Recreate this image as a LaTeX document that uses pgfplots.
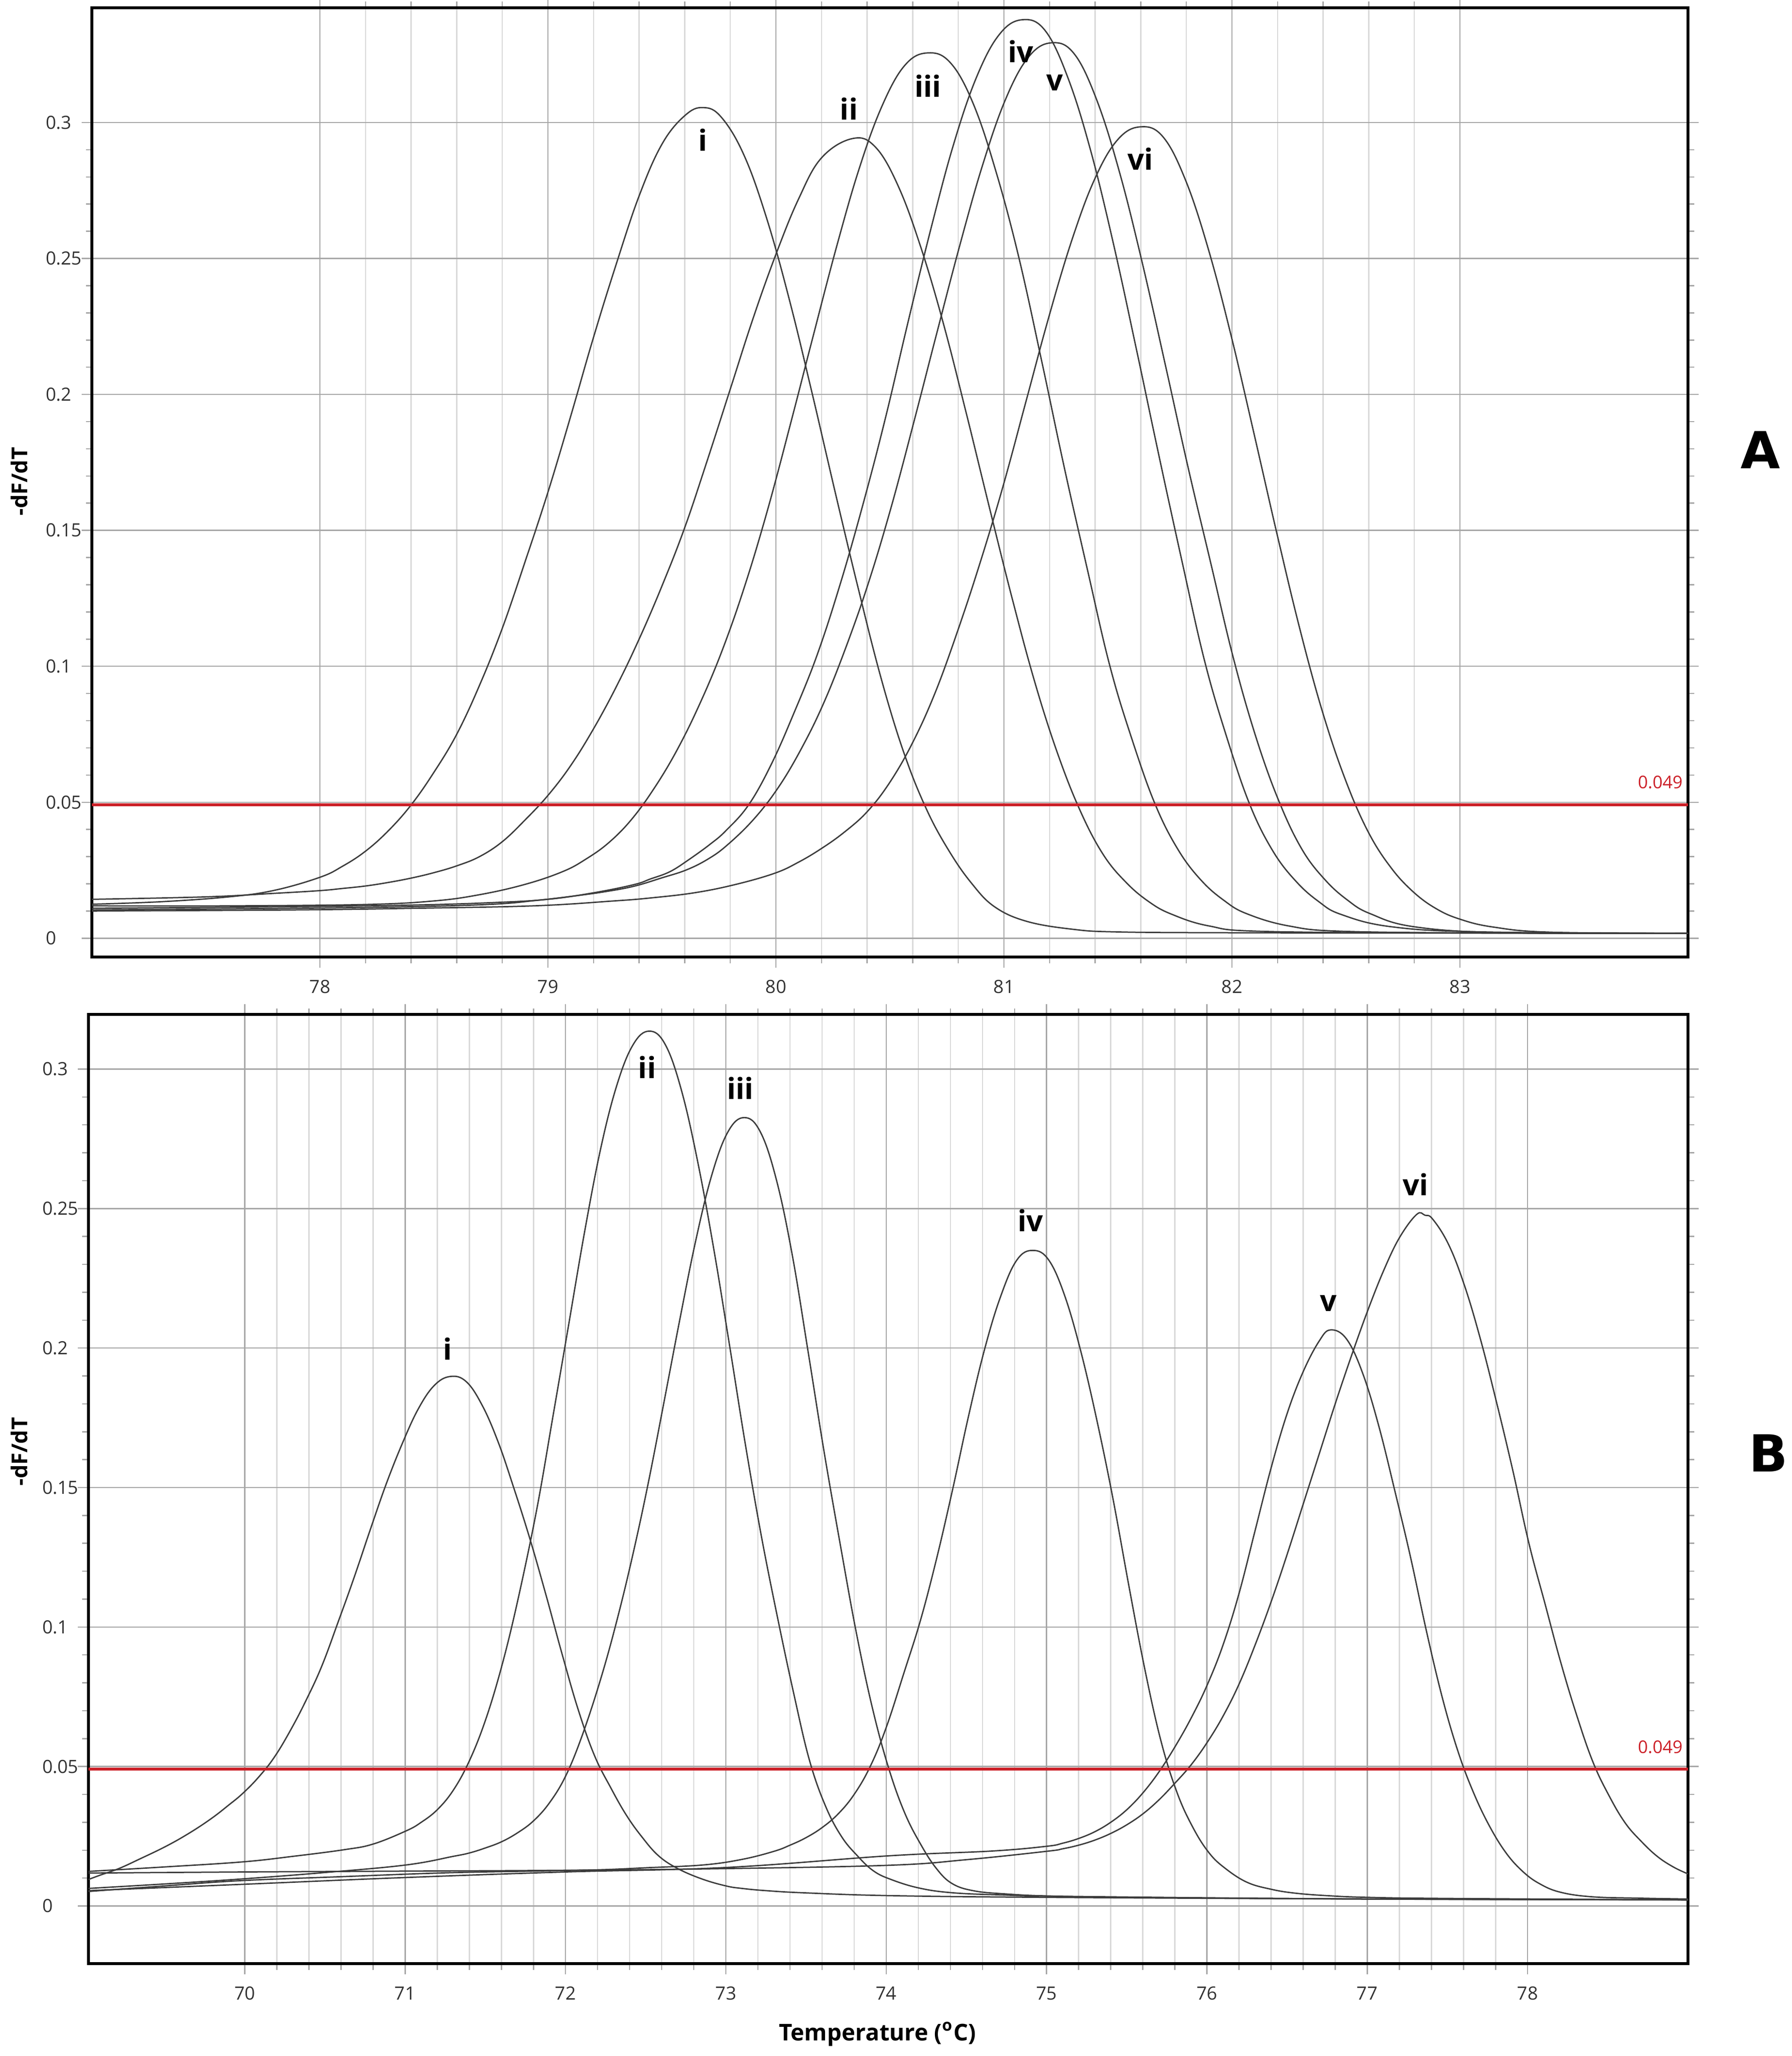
\documentclass[border=0pt]{standalone}
\usepackage{pgfplots}
\pgfplotsset{compat=1.18}
\usepackage{fontspec}
\setmainfont{Open Sans}
\newfontfamily\dejavu{DejaVu Sans}
\definecolor{thr}{RGB}{204,32,40}
\definecolor{crv}{RGB}{60,60,60}
\tikzset{pk/.style={font=\fontsize{12}{14}\selectfont\bfseries, text=black, inner sep=0pt}}
\pgfplotsset{
  melt/.style={
    scale only axis, anchor=north west,
    axis line style={line width=1.1pt, black},
    tick align=outside,
    major tick length=4.3pt, minor tick length=2.5pt,
    tick style={black!35, line width=0.5pt},
    xmajorgrids=true, xminorgrids=true, ymajorgrids=true, yminorgrids=false,
    major grid style={black!35, line width=0.5pt},
    minor grid style={black!15, line width=0.5pt},
    minor x tick num=4, minor y tick num=4,
    scaled y ticks=false, scaled x ticks=false,
    ytick={0,0.05,0.1,0.15,0.2,0.25,0.3},
    yticklabels={0,0.05,0.1,0.15,0.2,0.25,0.3},
    ticklabel style={font=\fontsize{7.5}{9}\selectfont, text=black!80},
    yticklabel style={anchor=west, inner sep=0pt, xshift=-14.9pt},
    xticklabel style={anchor=north, inner sep=0pt, yshift=-5pt},
    clip=true,
  },
  curve/.style={crv, line width=0.55pt, smooth, tension=0.65},
  thline/.style={thr, line width=1.2pt},
}
\begin{document}
\begin{tikzpicture}
\path[use as bounding box] (0,0) rectangle (737pt,-845.6pt);

% ---------------- Panel A ----------------
\begin{axis}[melt, at={(37.8pt,-3.2pt)}, width=656.6pt, height=390.4pt,
  xmin=77, xmax=84, ymin=-0.00692, ymax=0.3422,
  xtick={78,79,80,81,82,83}, xticklabels={78,79,80,81,82,83}]
% i
\addplot[curve] table {
x y
77.0 0.0125
77.3 0.0134
77.6 0.0152
77.8 0.0176
78.0 0.0224
78.1 0.0265
78.2 0.0320
78.3 0.0395
78.4 0.0490
78.5 0.0610
78.6 0.0750
78.7 0.0930
78.8 0.1140
78.9 0.1385
79.0 0.1640
79.1 0.1920
79.2 0.2210
79.3 0.2480
79.4 0.2730
79.5 0.2920
79.6 0.3025
79.68 0.3055
79.76 0.3020
79.86 0.2880
79.96 0.2646
80.06 0.2345
80.16 0.2000
80.26 0.1640
80.36 0.1290
80.46 0.0960
80.56 0.0685
80.66 0.0475
80.76 0.0320
80.86 0.0200
80.96 0.0115
81.1 0.0062
81.3 0.0033
81.5 0.0023
82.0 0.0020
83.0 0.0019
84.0 0.0018
};
% ii
\addplot[curve] table {
x y
77.0 0.0143
77.5 0.0152
77.8 0.0165
78.0 0.0175
78.1 0.0183
78.2 0.0192
78.3 0.0205
78.4 0.0221
78.5 0.0241
78.6 0.0266
78.7 0.0300
78.8 0.0355
78.9 0.0435
79.0 0.0525
79.1 0.0635
79.2 0.0770
79.3 0.0925
79.4 0.1100
79.5 0.1295
79.6 0.1510
79.7 0.1760
79.8 0.2020
79.9 0.2280
80.0 0.2515
80.1 0.2720
80.2 0.2870
80.336 0.2941
80.436 0.2910
80.536 0.2767
80.636 0.2540
80.736 0.2256
80.836 0.1927
80.936 0.1585
81.036 0.1250
81.136 0.0940
81.236 0.0678
81.336 0.0466
81.436 0.0307
81.536 0.0205
81.636 0.0134
81.736 0.0088
81.9 0.0045
82.14 0.0025
83.0 0.0019
84.0 0.0018
};
% iii
\addplot[curve] table {
x y
77.0 0.0119
77.6 0.0119
78.2 0.0124
78.5 0.0137
78.7 0.0160
78.9 0.0198
79.065 0.0245
79.165 0.0290
79.265 0.0350
79.365 0.0435
79.465 0.0550
79.565 0.0690
79.665 0.0860
79.765 0.1060
79.865 0.1300
79.965 0.1580
80.065 0.1895
80.165 0.2220
80.265 0.2540
80.365 0.2830
80.465 0.3060
80.565 0.3210
80.665 0.3256
80.765 0.3220
80.865 0.3070
80.965 0.2820
81.065 0.2505
81.165 0.2125
81.265 0.1730
81.365 0.1360
81.465 0.1000
81.565 0.0723
81.665 0.0489
81.765 0.0324
81.865 0.0213
81.965 0.0139
82.065 0.0090
82.25 0.0045
82.5 0.0025
83.2 0.0019
84.0 0.0018
};
% iv
\addplot[curve] table {
x y
77.0 0.0110
77.88 0.0116
78.41 0.0122
78.76 0.0131
79.0 0.0143
79.2 0.0167
79.377 0.0197
79.45 0.0218
79.536 0.0245
79.62 0.0290
79.712 0.0346
79.78 0.0395
79.88 0.0490
79.98 0.0640
80.08 0.0830
80.18 0.1040
80.28 0.1297
80.38 0.1590
80.48 0.1912
80.58 0.2268
80.68 0.2610
80.78 0.2922
80.88 0.3167
80.98 0.3324
81.08 0.3378
81.18 0.3339
81.28 0.3166
81.38 0.2898
81.48 0.2555
81.58 0.2170
81.68 0.1774
81.78 0.1390
81.88 0.1020
81.98 0.0732
82.08 0.0488
82.18 0.0320
82.28 0.0210
82.38 0.0135
82.48 0.0087
82.7 0.0042
83.1 0.0023
84.0 0.0018
};
% v
\addplot[curve] table {
x y
77.0 0.0104
77.88 0.0110
78.4 0.0116
78.76 0.0125
78.95 0.0139
79.113 0.0155
79.25 0.0171
79.377 0.0191
79.5 0.0222
79.607 0.0251
79.7 0.0290
79.783 0.0340
79.9 0.0435
80.007 0.0550
80.107 0.0690
80.207 0.0860
80.307 0.1070
80.407 0.1310
80.507 0.1590
80.607 0.1905
80.707 0.2230
80.807 0.2550
80.907 0.2845
81.007 0.3085
81.107 0.3240
81.207 0.3293
81.307 0.3254
81.407 0.3083
81.507 0.2817
81.607 0.2483
81.707 0.2112
81.807 0.1734
81.907 0.1380
82.007 0.1028
82.107 0.0735
82.207 0.0502
82.307 0.0327
82.407 0.0216
82.507 0.0140
82.607 0.0090
82.8 0.0042
83.2 0.0020
84.0 0.0018
};
% vi
\addplot[curve] table {
x y
77.0 0.0100
77.88 0.0104
78.407 0.0110
78.937 0.0119
79.289 0.0137
79.45 0.0148
79.642 0.0167
79.82 0.0197
79.995 0.0239
80.1 0.0280
80.2 0.0330
80.3 0.0390
80.4 0.0465
80.497 0.0570
80.597 0.0715
80.697 0.0900
80.797 0.1130
80.897 0.1385
80.997 0.1665
81.097 0.1975
81.197 0.2285
81.297 0.2565
81.397 0.2790
81.497 0.2935
81.597 0.2984
81.697 0.2948
81.797 0.2787
81.897 0.2533
81.997 0.2214
82.097 0.1855
82.197 0.1489
82.297 0.1140
82.397 0.0833
82.497 0.0584
82.597 0.0392
82.697 0.0260
82.797 0.0169
82.897 0.0108
83.0 0.0070
83.146 0.0041
83.4 0.0022
84.0 0.0018
};
\addplot[thline] coordinates {(77,0.049) (84,0.049)};
\node[anchor=base east, inner sep=0pt, xshift=-2pt, yshift=6.8pt, text=thr, font=\fontsize{7.2}{8}\selectfont] at (axis cs:84,0.049) {0.049};
\node[pk] at (axis cs:79.68,0.2936) {i};
\node[pk] at (axis cs:80.32,0.3051) {ii};
\node[pk] at (axis cs:80.667,0.3135) {iii};
\node[pk] at (axis cs:81.073,0.3262) {iv};
\node[pk] at (axis cs:81.222,0.3146) {v};
\node[pk] at (axis cs:81.599,0.2867) {vi};
\end{axis}

% ---------------- Panel B ----------------
\begin{axis}[melt, at={(36.4pt,-417.2pt)}, width=658pt, height=390.4pt,
  xmin=69.025, xmax=79.0, ymin=-0.02066, ymax=0.3196,
  xtick={70,71,72,73,74,75,76,77,78}, xticklabels={70,71,72,73,74,75,76,77,78}]
% i
\addplot[curve] table {
x y
69.025 0.0095
69.1 0.0111
69.218 0.0135
69.35 0.0170
69.505 0.0213
69.65 0.0260
69.79 0.0313
69.9 0.0362
69.984 0.0402
70.08 0.0458
70.18 0.0530
70.28 0.0625
70.38 0.0735
70.48 0.0860
70.58 0.1015
70.68 0.1175
70.78 0.1345
70.88 0.1510
70.98 0.1655
71.08 0.1780
71.18 0.1865
71.28 0.1898
71.38 0.1880
71.48 0.1795
71.58 0.1663
71.68 0.1494
71.78 0.1312
71.88 0.1111
71.98 0.0900
72.08 0.0702
72.18 0.0540
72.28 0.0426
72.38 0.0325
72.48 0.0245
72.58 0.0180
72.697 0.0135
72.85 0.0097
73.0 0.0072
73.1 0.0063
73.25 0.0055
73.495 0.0047
74.03 0.0037
75.0 0.0031
77.0 0.0025
79.0 0.0022
};
% ii
\addplot[curve] table {
x y
69.025 0.0124
69.5 0.0140
69.984 0.0158
70.3 0.0178
70.622 0.0202
70.8 0.0222
71.005 0.0269
71.1 0.0300
71.2 0.0345
71.3 0.0415
71.4 0.0520
71.5 0.0665
71.6 0.0855
71.7 0.1090
71.82 0.1420
71.92 0.1750
72.02 0.2085
72.12 0.2420
72.22 0.2717
72.32 0.2942
72.42 0.3086
72.52 0.3136
72.62 0.3090
72.72 0.2930
72.82 0.2680
72.92 0.2370
73.02 0.2020
73.12 0.1660
73.22 0.1330
73.32 0.1040
73.42 0.0770
73.52 0.0525
73.62 0.0360
73.72 0.0250
73.82 0.0180
73.92 0.0126
74.03 0.0095
74.2 0.0065
74.4 0.0048
74.7 0.0040
75.2 0.0034
77.0 0.0025
79.0 0.0022
};
% iii
\addplot[curve] table {
x y
69.025 0.0063
69.5 0.0079
69.984 0.0097
70.5 0.0120
71.005 0.0147
71.3 0.0178
71.4 0.0190
71.5 0.0208
71.6 0.0230
71.7 0.0262
71.8 0.0305
71.9 0.0370
72.0 0.0465
72.1 0.0605
72.212 0.0800
72.312 0.1005
72.412 0.1240
72.512 0.1505
72.612 0.1800
72.712 0.2100
72.812 0.2385
72.912 0.2620
73.012 0.2774
73.112 0.2826
73.212 0.2778
73.312 0.2610
73.412 0.2340
73.512 0.1990
73.612 0.1630
73.712 0.1300
73.812 0.0984
73.912 0.0714
74.012 0.0500
74.112 0.0338
74.212 0.0224
74.312 0.0135
74.412 0.0080
74.55 0.0054
74.75 0.0043
75.0 0.0036
75.5 0.0031
77.0 0.0025
79.0 0.0022
};
% iv
\addplot[curve] table {
x y
69.025 0.0052
69.5 0.0072
69.98 0.0091
70.6 0.0105
71.26 0.0119
71.8 0.0125
72.218 0.0130
72.5 0.0137
72.857 0.0147
73.1 0.0167
73.3 0.0196
73.4 0.0218
73.5 0.0245
73.6 0.0281
73.7 0.0330
73.8 0.0400
73.9 0.0500
74.0 0.0640
74.114 0.0842
74.214 0.1025
74.314 0.1245
74.414 0.1493
74.514 0.1758
74.614 0.1997
74.714 0.2186
74.814 0.2315
74.914 0.2350
75.014 0.2315
75.114 0.2186
75.214 0.1987
75.314 0.1740
75.414 0.1460
75.514 0.1145
75.614 0.0845
75.714 0.0590
75.814 0.0406
75.914 0.0280
76.014 0.0190
76.114 0.0135
76.25 0.0085
76.4 0.0060
76.55 0.0046
76.75 0.0037
77.0 0.0031
77.5 0.0027
79.0 0.0022
};
% v
\addplot[curve] table {
x y
69.025 0.0055
70.0 0.0078
71.0 0.0102
72.0 0.0122
73.0 0.0138
74.02 0.0180
74.66 0.0197
75.0 0.0214
75.1 0.0225
75.2 0.0242
75.3 0.0266
75.4 0.0300
75.5 0.0345
75.6 0.0405
75.7 0.0480
75.8 0.0570
75.9 0.0672
76.0 0.0790
76.1 0.0935
76.2 0.1120
76.3 0.1345
76.4 0.1570
76.5 0.1765
76.6 0.1915
76.7 0.2025
76.771 0.2065
76.871 0.2032
76.971 0.1910
77.071 0.1722
77.171 0.1490
77.271 0.1247
77.371 0.0980
77.471 0.0740
77.571 0.0545
77.671 0.0395
77.771 0.0277
77.871 0.0186
77.971 0.0123
78.071 0.0081
78.2 0.0050
78.4 0.0033
78.7 0.0028
79.0 0.0025
};
% vi
\addplot[curve] table {
x y
69.025 0.0118
70.0 0.0122
71.0 0.0125
72.0 0.0128
73.0 0.0134
74.02 0.0146
74.5 0.0166
75.0 0.0196
75.1 0.0205
75.2 0.0218
75.3 0.0236
75.4 0.0260
75.5 0.0291
75.6 0.0330
75.7 0.0380
75.8 0.0440
75.9 0.0505
76.0 0.0585
76.1 0.0680
76.2 0.0795
76.3 0.0935
76.4 0.1090
76.5 0.1260
76.6 0.1440
76.7 0.1620
76.8 0.1800
76.9 0.1970
77.0 0.2130
77.1 0.2275
77.2 0.2395
77.308 0.2479
77.36 0.2476
77.408 0.2462
77.508 0.2370
77.608 0.2221
77.708 0.2027
77.808 0.1801
77.908 0.1560
78.008 0.1300
78.108 0.1084
78.208 0.0870
78.308 0.0680
78.408 0.0515
78.508 0.0395
78.608 0.0298
78.708 0.0232
78.808 0.0178
78.908 0.0140
79.0 0.0115
};
\addplot[thline] coordinates {(69.025,0.049) (79,0.049)};
\node[anchor=base east, inner sep=0pt, xshift=-2pt, yshift=6.6pt, text=thr, font=\fontsize{7.2}{8}\selectfont] at (axis cs:79,0.049) {0.049};
\node[pk] at (axis cs:71.264,0.1998) {i};
\node[pk] at (axis cs:72.509,0.3006) {ii};
\node[pk] at (axis cs:73.09,0.2931) {iii};
\node[pk] at (axis cs:74.9,0.2457) {iv};
\node[pk] at (axis cs:76.757,0.2161) {v};
\node[pk] at (axis cs:77.30,0.2586) {vi};
\end{axis}

% axis titles and panel letters
\node[rotate=90, font=\fontsize{9}{10}\selectfont\bfseries] at (8pt,-198pt) {-dF/dT};
\node[rotate=90, font=\fontsize{9}{10}\selectfont\bfseries] at (8pt,-597pt) {-dF/dT};
\node[anchor=base, font=\fontsize{9.5}{11}\selectfont\bfseries] at (361pt,-839.2pt) {Temperature (\textsuperscript{o}C)};
\node[font=\dejavu\fontsize{21}{24}\selectfont\bfseries] at (724.2pt,-185pt) {A};
\node[font=\dejavu\fontsize{21}{24}\selectfont\bfseries] at (727.4pt,-597.6pt) {B};
\end{tikzpicture}
\end{document}
